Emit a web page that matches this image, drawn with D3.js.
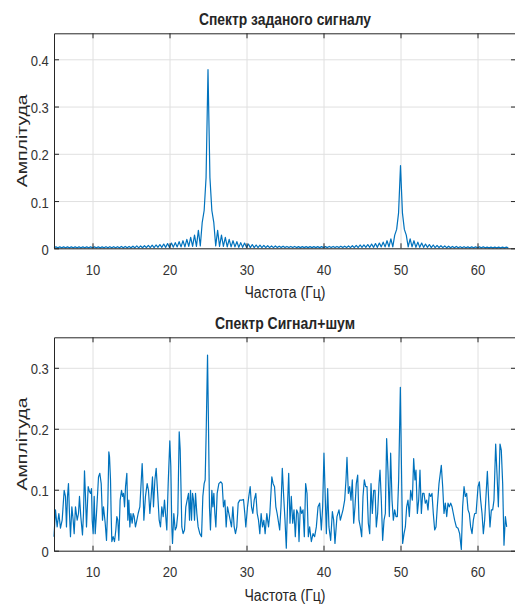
<!DOCTYPE html>
<html>
<head>
<meta charset="utf-8">
<title>Спектр сигналу</title>
<script src="https://cdn.jsdelivr.net/npm/d3@7"></script>
<style>
  body { margin: 0; background: #fff; }
  svg { display: block; }
  .grid line { stroke: #e0e0e0; stroke-width: 1; }
  .grid path { display: none; }
  .ax path, .ax line { stroke: #262626; }
  .ax text { font-family: "Liberation Sans", Arial, sans-serif; font-size: 15px; fill: #333; }
  .lbl { font-family: "Liberation Sans", Arial, sans-serif; fill: #262626; }
</style>
</head>
<body>
<script>
// figure size and common x range
var width = 515, height = 609;
var left = 54, right = 516;

// axis ticks
var xTicks = [10, 20, 30, 40, 50, 60];
var yTicksTop = [0, 0.1, 0.2, 0.3, 0.4];
var yTicksBottom = [0, 0.1, 0.2, 0.3];

var titles = ["Спектр заданого сигналу", "Спектр Сигнал+шум"];
var xLabel = "Частота (Гц)";
var yLabel = "Амплітуда";

// clean signal spectrum, one row per Hz (step 0.25 Hz starting at 5 Hz)
var cleanStart = 5, cleanStep = 0.25;
var cleanAmp = [
  .001,.003,.001,.003,   // 5
  .001,.003,.001,.003,
  .001,.003,.001,.003,
  .001,.003,.001,.003,
  .001,.003,.001,.003,
  .001,.003,.001,.003,   // 10
  .001,.003,.001,.0035,
  .001,.0035,.001,.0035,
  .001,.0035,.001,.004,
  .001,.004,.001,.004,
  .001,.0045,.001,.005,  // 15
  .001,.005,.0012,.0055,
  .0015,.006,.0015,.0065,
  .0015,.007,.002,.008,
  .002,.009,.002,.01,
  .002,.011,.0025,.012,  // 20
  .003,.014,.003,.016,
  .003,.019,.004,.023,
  .004,.028,.004,.038,
  .005,.055,.08,.15,
  .378,.15,.08,.055,     // 25
  .005,.038,.004,.028,
  .004,.023,.003,.019,
  .003,.016,.003,.014,
  .002,.012,.002,.011,
  .002,.009,.0015,.008,  // 30
  .0015,.007,.0015,.0065,
  .0015,.006,.0015,.0055,
  .0015,.005,.0015,.005,
  .0015,.0045,.0015,.0045,
  .0015,.004,.0015,.004, // 35
  .0015,.004,.0015,.0035,
  .0015,.0035,.0015,.0035,
  .0015,.0035,.0015,.0035,
  .0015,.0035,.0015,.0035,
  .0015,.0035,.0015,.004, // 40
  .0015,.004,.0015,.004,
  .0015,.0045,.0015,.0045,
  .0015,.005,.0015,.0055,
  .0015,.006,.0015,.007,
  .002,.007,.002,.008,   // 45
  .002,.009,.002,.01,
  .002,.011,.003,.013,
  .003,.016,.003,.02,
  .003,.028,.04,.075,
  .175,.075,.04,.028,    // 50
  .003,.02,.003,.016,
  .002,.013,.002,.011,
  .002,.009,.002,.008,
  .0015,.007,.0015,.006,
  .0015,.0055,.0015,.005, // 55
  .001,.0045,.001,.004,
  .001,.004,.001,.0035,
  .001,.0035,.001,.003,
  .001,.003,.001,.003,
  .001,.003,.001,.003,   // 60
  .001,.0025,.001,.0025,
  .001,.0025,.001,.0025,
  .001,.0025,.001,.0025,
  .001                   // 64
];

// signal + noise spectrum
var noisyHz = [
  5.00,5.19,5.41,5.63,5.84,6.06,6.32,6.49,6.62,6.75,6.88,7.01,7.14,7.32,7.49,7.62,7.79,8.01,8.18,8.31,
  8.48,8.70,8.83,8.96,9.09,9.22,9.44,9.61,9.74,9.87,9.96,10.09,10.22,10.35,10.52,10.78,10.95,11.13,11.30,11.43,
  11.65,11.82,11.99,12.12,12.21,12.34,12.42,12.51,12.68,12.86,13.03,13.16,13.29,13.42,13.59,13.77,13.90,14.03,14.16,14.29,
  14.46,14.59,14.72,14.85,14.98,15.15,15.28,15.41,15.58,15.76,15.93,16.15,16.45,16.54,16.67,16.88,17.10,17.27,17.45,17.62,
  17.79,17.92,18.10,18.27,18.44,18.66,18.83,19.00,19.18,19.35,19.48,19.65,19.83,20.04,20.17,20.30,20.39,20.56,20.74,20.91,
  21.08,21.26,21.39,21.60,21.77,21.95,22.12,22.29,22.47,22.60,22.73,22.86,22.99,23.12,23.25,23.38,23.55,23.72,23.94,24.16,
  24.33,24.50,24.63,24.76,24.94,25.06,25.19,25.32,25.50,25.63,25.76,25.89,26.02,26.19,26.41,26.67,26.84,27.01,27.19,27.36,
  27.53,27.71,27.88,28.05,28.23,28.40,28.57,28.74,28.92,29.13,29.39,29.61,29.78,29.91,30.13,30.30,30.48,30.65,30.82,31.00,
  31.21,31.39,31.56,31.73,31.90,32.08,32.25,32.42,32.64,32.86,33.03,33.29,33.46,33.64,33.81,33.98,34.31,34.48,34.65,34.83,
  35.00,35.17,35.35,35.48,35.65,35.82,36.00,36.17,36.34,36.52,36.69,36.82,36.99,37.16,37.34,37.51,37.68,37.86,38.03,38.20,
  38.42,38.64,38.85,39.07,39.29,39.50,39.72,39.89,40.06,40.24,40.37,40.54,40.71,40.93,41.15,41.32,41.49,41.75,42.01,42.19,
  42.53,42.75,42.92,43.05,43.23,43.40,43.57,43.74,43.92,44.09,44.26,44.44,44.61,44.78,44.96,45.13,45.30,45.48,45.65,45.82,
  46.00,46.17,46.34,46.52,46.69,46.86,47.03,47.21,47.34,47.51,47.68,47.86,48.03,48.20,48.37,48.55,48.72,48.90,49.07,49.24,
  49.42,49.59,49.76,49.98,50.15,50.28,50.46,50.63,50.80,50.97,51.15,51.32,51.54,51.71,51.88,52.01,52.19,52.36,52.53,52.71,
  52.88,53.05,53.22,53.40,53.57,53.74,53.92,54.09,54.26,54.44,54.61,54.78,55.00,55.30,55.48,55.65,55.82,56.00,56.17,56.34,
  56.52,56.69,56.86,57.03,57.25,57.47,57.68,57.90,58.07,58.25,58.42,58.59,58.77,58.94,59.11,59.29,59.46,59.63,59.81,60.07,
  60.24,60.41,60.59,60.76,60.93,61.10,61.28,61.45,61.62,61.80,61.97,62.14,62.36,62.53,62.71,62.92,63.09,63.27,63.44,63.62,
  63.79
];
var noisyAmp = [
  .023,.067,.039,.061,.037,.050,.099,.089,.039,.089,.110,.061,.023,.072,.050,.028,.072,.050,.061,.089,
  .056,.026,.061,.131,.089,.039,.105,.097,.094,.102,.050,.028,.089,.028,.061,.121,.127,.110,.050,.072,
  .045,.017,.078,.162,.154,.116,.061,.015,.023,.015,.034,.056,.050,.017,.083,.099,.089,.094,.072,.105,
  .127,.050,.083,.039,.061,.045,.061,.056,.039,.050,.061,.072,.143,.116,.050,.089,.110,.099,.061,.089,
  .121,.072,.116,.135,.099,.050,.039,.072,.056,.083,.061,.034,.110,.180,.138,.039,.012,.061,.034,.039,
  .061,.195,.165,.039,.028,.034,.072,.083,.094,.050,.099,.050,.094,.083,.050,.094,.061,.039,.028,.023,
  .089,.110,.116,.192,.321,.209,.072,.034,.099,.072,.094,.061,.039,.094,.110,.113,.110,.072,.083,.039,
  .072,.061,.050,.039,.072,.039,.028,.039,.078,.083,.083,.084,.061,.039,.072,.089,.105,.072,.061,.083,
  .094,.061,.050,.028,.061,.039,.050,.028,.061,.039,.061,.121,.110,.105,.072,.061,.034,.072,.135,.089,
  .050,.004,.083,.127,.045,.089,.045,.067,.023,.067,.061,.015,.072,.061,.067,.023,.110,.094,.023,.039,
  .015,.028,.023,.039,.072,.078,.034,.072,.160,.083,.028,.102,.039,.017,.064,.050,.012,.056,.067,.050,
  .067,.083,.116,.153,.094,.105,.083,.116,.045,.072,.110,.124,.050,.039,.023,.089,.116,.105,.105,.045,
  .028,.110,.061,.099,.099,.039,.061,.110,.132,.083,.017,.050,.061,.184,.132,.056,.160,.083,.050,.067,
  .056,.056,.116,.268,.116,.012,.028,.039,.072,.083,.056,.099,.083,.151,.116,.132,.061,.083,.132,.061,
  .094,.094,.078,.083,.067,.094,.089,.094,.061,.034,.039,.072,.110,.140,.105,.061,.078,.056,.078,.072,
  .078,.072,.061,.050,.039,.037,.028,.002,.072,.105,.089,.094,.067,.061,.039,.028,.050,.061,.061,.105,
  .113,.083,.061,.028,.050,.089,.130,.083,.039,.067,.067,.083,.175,.127,.072,.175,.165,.110,.009,.056,
  .039
];

var panels = [
  { title: titles[0], top: 33.3, bottom: 248.3, yMax: 0.455, yTicks: yTicksTop,
    data: cleanAmp.map(function(a, i) { return { f: cleanStart + i * cleanStep, a: a }; }),
    titleY: 25, titleLen: 172, xlabY: 298 },
  { title: titles[1], top: 337.3, bottom: 550.7, yMax: 0.35, yTicks: yTicksBottom,
    data: noisyHz.map(function(f, i) { return { f: f, a: noisyAmp[i] }; }),
    titleY: 329, titleLen: 140, xlabY: 601 }
];

var svg = d3.select("body").append("svg")
    .attr("width", width)
    .attr("height", height);

var x = d3.scaleLinear().domain([5, 65]).range([left, right]);

panels.forEach(function(p) {
  var y = d3.scaleLinear().domain([0, p.yMax]).range([p.bottom, p.top]);
  var h = p.bottom - p.top;
  var g = svg.append("g");

  // grid
  g.append("g").attr("class", "grid")
      .attr("transform", "translate(0," + p.bottom + ")")
      .call(d3.axisBottom(x).tickValues(xTicks).tickSize(-h).tickFormat(""));
  g.append("g").attr("class", "grid")
      .attr("transform", "translate(" + left + ",0)")
      .call(d3.axisLeft(y).tickValues(p.yTicks).tickSize(-(right - left)).tickFormat(""));

  // data line
  var line = d3.line().x(function(d) { return x(d.f); }).y(function(d) { return y(d.a); });
  g.append("path").datum(p.data)
      .attr("d", line)
      .attr("fill", "none")
      .attr("stroke", "#0072BD")
      .attr("stroke-width", 1.2)
      .attr("stroke-linejoin", "round");

  // axes with inward ticks, box on
  var xb = g.append("g").attr("class", "ax")
      .attr("transform", "translate(0," + p.bottom + ")")
      .call(d3.axisBottom(x).tickValues(xTicks).tickSizeInner(-5).tickSizeOuter(0).tickPadding(16)
        .tickFormat(function(d) { return String(d); }));
  xb.selectAll("text").attr("transform", "scale(0.87,1)");

  g.append("g").attr("class", "ax")
      .attr("transform", "translate(0," + p.top + ")")
      .call(d3.axisTop(x).tickValues(xTicks).tickSizeInner(-5).tickSizeOuter(0).tickFormat(""));

  var yl = g.append("g").attr("class", "ax")
      .attr("transform", "translate(" + left + ",0)")
      .call(d3.axisLeft(y).tickValues(p.yTicks).tickSizeInner(-5).tickSizeOuter(0).tickPadding(6)
        .tickFormat(function(d) { return String(d); }));
  yl.selectAll("text").attr("transform", "scale(0.87,1)").attr("dy", "0.4em");

  g.append("g").attr("class", "ax")
      .attr("transform", "translate(" + right + ",0)")
      .call(d3.axisRight(y).tickValues(p.yTicks).tickSizeInner(-5).tickSizeOuter(0).tickFormat(""));

  // titles and labels
  g.append("text").attr("class", "lbl")
      .attr("x", (left + right) / 2).attr("y", p.titleY)
      .attr("text-anchor", "middle")
      .attr("font-size", 16).attr("font-weight", "bold").attr("fill", "#000")
      .attr("textLength", p.titleLen).attr("lengthAdjust", "spacingAndGlyphs")
      .text(p.title);

  g.append("text").attr("class", "lbl")
      .attr("x", (left + right) / 2).attr("y", p.xlabY)
      .attr("text-anchor", "middle")
      .attr("font-size", 16)
      .attr("textLength", 81).attr("lengthAdjust", "spacingAndGlyphs")
      .text(xLabel);

  g.append("text").attr("class", "lbl")
      .attr("transform", "translate(27," + ((p.top + p.bottom) / 2) + ") rotate(-90)")
      .attr("text-anchor", "middle")
      .attr("font-size", 15)
      .attr("textLength", 93).attr("lengthAdjust", "spacingAndGlyphs")
      .text(yLabel);
});
</script>
</body>
</html>
